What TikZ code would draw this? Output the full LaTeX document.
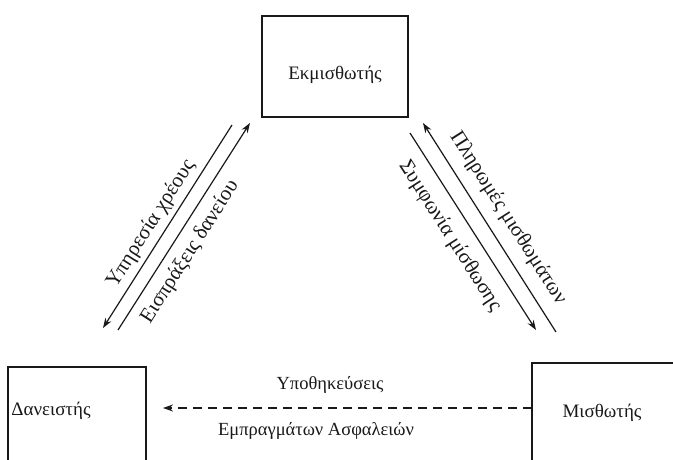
\documentclass[tikz,border=0pt]{standalone}
\usepackage{fontspec}
\setmainfont{Liberation Serif}
\usetikzlibrary{arrows.meta}
\begin{document}
\begin{tikzpicture}[x=1pt,y=-1pt,
  party/.style={draw=black!90,line width=1.5pt},
  flow/.style={draw=black!90,line width=1.2pt,-{Stealth[length=10pt,width=7pt]}},
  boxlbl/.style={font=\fontsize{19}{21}\selectfont,text=black!90,inner sep=0pt},
  lbl/.style={font=\fontsize{18.5}{20}\selectfont,text=black!90,inner sep=0pt},
  slbl/.style={font=\fontsize{21}{23}\selectfont,text=black!90,inner sep=0pt}]
\useasboundingbox (0,0) rectangle (673,460);

% the three parties
\draw[party] (262,16) rectangle (408,117);
\node[boxlbl] (lessor) at (335,75) {Εκμισθωτής};
\draw[party] (8,367) rectangle (146,475);
\node[boxlbl] (lender) at (51,411) {Δανειστής};
\draw[party] (532,363) rectangle (690,475);
\node[boxlbl] (lessee) at (602,413) {Μισθωτής};

% lessor -- lender
\coordinate (l1a) at (232,125); \coordinate (l1b) at (103,328);
\coordinate (l2a) at (118,330); \coordinate (l2b) at (250,123);
\draw[flow] (l1a) -- (l1b);
\draw[flow] (l2a) -- (l2b);
\node[slbl,rotate=57.5] (debt) at (151,224) {Υπηρεσία χρέους};
\node[slbl,rotate=57.5] (loan) at (190,252) {Εισπράξεις δανείου};

% lessor -- lessee
\coordinate (r1a) at (556,332); \coordinate (r1b) at (423,123);
\coordinate (r2a) at (410,133); \coordinate (r2b) at (536,330);
\draw[flow] (r1a) -- (r1b);
\draw[flow] (r2a) -- (r2b);
\node[slbl,rotate=-57.5] (rent) at (508,218) {Πληρωμές μισθωμάτων};
\node[slbl,rotate=-57.5] (lease) at (450,236) {Συμφωνία μίσθωσης};

% lessee -- lender
\coordinate (d1) at (532,408); \coordinate (d2) at (163,408);
\draw[flow,line width=1.3pt,dash pattern=on 9pt off 6pt] (d1) -- (d2);
\node[lbl] (mort) at (330,385) {Υποθηκεύσεις};
\node[lbl] (sec) at (316,431) {Εμπραγμάτων Ασφαλειών};
\end{tikzpicture}
\end{document}
